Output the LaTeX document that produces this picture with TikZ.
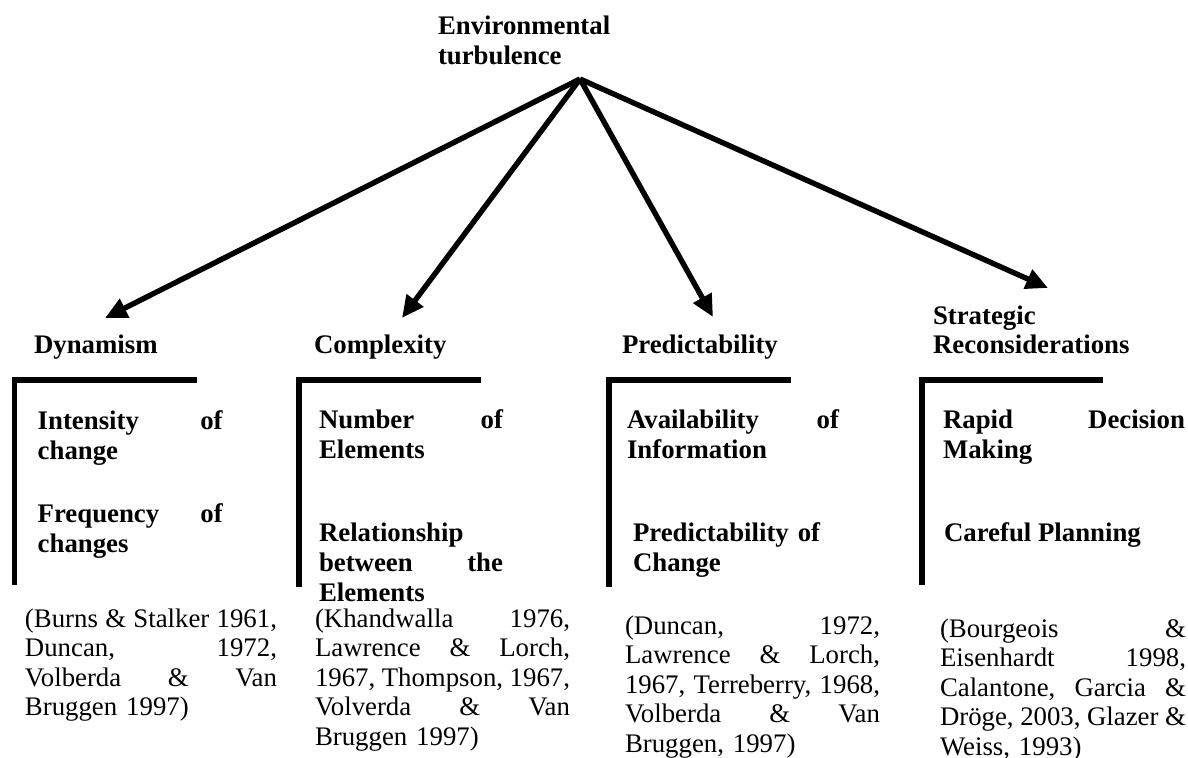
\documentclass[tikz,border=0pt]{standalone}
\usepackage{fontspec}
\setmainfont{Liberation Serif}
\usetikzlibrary{arrows.meta}
\begin{document}
\begin{tikzpicture}[x=0.5pt,y=-0.5pt,
  lbl/.style={anchor=base west, inner sep=0pt, outer sep=0pt, align=left,
    font=\fontsize{13.4}{14.8}\selectfont\bfseries},
  body/.style={anchor=base west, inner sep=0pt, outer sep=0pt, align=left,
    font=\fontsize{13.4}{14.75}\selectfont},
  arr/.style={line width=2.7pt, -{Triangle[length=11pt,width=10pt]}},
  brk/.style={line width=2.8pt, line join=miter}]
\useasboundingbox (0,0) rectangle (1188,758);

% top node and arrows
\node[lbl, text width=92pt] (env) at (438,35) {Environmental\\turbulence};
\coordinate (apex) at (580,79);
\coordinate (tD) at (105,318);
\coordinate (tC) at (402,318);
\coordinate (tP) at (713,317);
\coordinate (tS) at (1048,288);
\draw[arr] (apex) -- (tD);
\draw[arr] (apex) -- (tC);
\draw[arr] (apex) -- (tP);
\draw[arr] (apex) -- (tS);

% headings
\node[lbl] (dyn) at (34,354) {Dynamism};
\node[lbl] (cpx) at (314,354) {Complexity};
\node[lbl] (prd) at (622,354) {Predictability};
\node[lbl, text width=105pt] (str) at (933,324.4) {Strategic\\Reconsiderations};

% brackets
\draw[brk] (14.5,585) -- (14.5,380) -- (197,380);
\draw[brk] (299,587) -- (299,380) -- (481,380);
\draw[brk] (609,587) -- (609,380) -- (791,380);
\draw[brk] (922,585) -- (922,380) -- (1103,380);

% inner items
\node[lbl, text width=92.5pt] (d1) at (37.7,430) {Intensity\hfill of\\change};
\node[lbl, text width=92.5pt] (d2) at (37.7,523) {Frequency\hfill of\\changes};
\node[lbl, text width=92pt] (c1) at (319,429) {Number\hfill of\\Elements};
\node[lbl, text width=92pt] (c2) at (319,542) {Relationship\\between\hfill the\\Elements};
\node[lbl, text width=106pt] (p1) at (627,429) {Availability\hfill of\\Information};
\node[lbl, text width=100pt] (p2) at (633,542) {Predictability of\\Change};
\node[lbl, text width=121pt] (s1) at (943,429) {Rapid\hfill Decision\\Making};
\node[lbl] (s2) at (944,542) {Careful Planning};

% citations
\node[body, text width=126pt] (cd) at (25,627)
  {(Burns\hfill\&\hfill Stalker\hfill 1961,\\Duncan,\hfill 1972,\\Volberda\hfill\&\hfill Van\\Bruggen 1997)};
\node[body, text width=127.5pt] (cc) at (315,627)
  {(Khandwalla\hfill 1976,\\Lawrence\hfill\&\hfill Lorch,\\1967,\hfill Thompson,\hfill 1967,\\Volverda\hfill\&\hfill Van\\Bruggen 1997)};
\node[body, text width=127.5pt] (cp) at (625,634)
  {(Duncan,\hfill 1972,\\Lawrence\hfill\&\hfill Lorch,\\1967,\hfill Terreberry,\hfill 1968,\\Volberda\hfill\&\hfill Van\\Bruggen, 1997)};
\node[body, text width=123pt] (cs) at (940,637)
  {(Bourgeois\hfill\&\\Eisenhardt\hfill 1998,\\Calantone,\hfill Garcia\hfill\&\\Dröge,\hfill 2003,\hfill Glazer\hfill\&\\Weiss, 1993)};
\end{tikzpicture}
\end{document}
